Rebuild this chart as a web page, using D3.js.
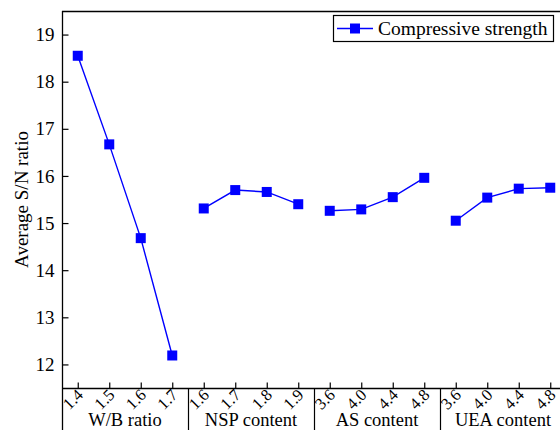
<!DOCTYPE html>
<html>
<head>
<meta charset="utf-8">
<script src="https://cdn.jsdelivr.net/npm/d3@7"></script>
<style>
  html, body { margin: 0; padding: 0; background: #fff; }
  svg { display: block; }
</style>
</head>
<body>
<svg id="chart" width="560" height="430"></svg>
<script>
// Factor groups and their levels (main-effects plot of average S/N ratio)
const groups = ["W/B ratio", "NSP content", "AS content", "UEA content"];
const levels = [
  ["1.4", "1.5", "1.6", "1.7"],
  ["1.6", "1.7", "1.8", "1.9"],
  ["3.6", "4.0", "4.4", "4.8"],
  ["3.6", "4.0", "4.4", "4.8"]
];
const snValues = [
  [18.55, 16.67, 14.68, 12.19],
  [15.31, 15.70, 15.66, 15.40],
  [15.26, 15.29, 15.55, 15.96],
  [15.05, 15.54, 15.73, 15.75]
];
const yTicks = [12, 13, 14, 15, 16, 17, 18, 19];
const seriesName = "Compressive strength";

const FONT = "Liberation Serif";
const svg = d3.select("#chart");
const W = 560, H = 430;
const plotLeft = 62, plotTop = 11, plotBottom = 388, plotRight = 566;
const blue = "#0000ff";

const perGroup = levels[0].length;
const nPts = groups.length * perGroup;

const x = d3.scaleLinear().domain([-0.5, nPts - 0.5]).range([plotLeft, plotRight]);
const y = d3.scaleLinear().domain([11.5, 19.5]).range([plotBottom, plotTop]);

// Flatten points with their index along the axis
const points = [];
snValues.forEach((vals, g) => vals.forEach((v, j) => {
  points.push({ g, j, i: g * perGroup + j, v, label: levels[g][j] });
}));

// Frame
svg.append("line").attr("x1", plotLeft).attr("x2", W).attr("y1", plotTop + 0.5).attr("y2", plotTop + 0.5)
  .attr("stroke", "#000").attr("stroke-width", 1.3);
svg.append("line").attr("x1", plotLeft + 0.5).attr("x2", plotLeft + 0.5).attr("y1", plotTop).attr("y2", H)
  .attr("stroke", "#000").attr("stroke-width", 1.3);

// Y axis with inward ticks
const yAxis = d3.axisLeft(y).tickValues(yTicks).tickSize(-6).tickPadding(8).tickFormat(d3.format("d"));
const yg = svg.append("g").attr("transform", `translate(${plotLeft + 0.5},0)`).call(yAxis)
  .attr("font-family", FONT).attr("font-size", 19);
yg.select(".domain").remove();
yg.selectAll(".tick line").attr("stroke", "#000").attr("stroke-width", 1.2);
yg.selectAll(".tick text").attr("fill", "#000");

// X axis with inward ticks
const xAxis = d3.axisBottom(x).tickValues(points.map(p => p.i)).tickSize(-6).tickFormat("");
const xg = svg.append("g").attr("transform", `translate(0,${plotBottom + 0.5})`).call(xAxis);
xg.select(".domain").attr("d", `M${plotLeft},0H${W}`).attr("stroke", "#000").attr("stroke-width", 1.3);
xg.selectAll(".tick line").attr("stroke", "#000").attr("stroke-width", 1.2);

// Rotated level labels, centred just below-left of each tick
svg.append("g").attr("font-family", FONT).attr("font-size", 16.5)
  .selectAll("text").data(points).join("text")
  .attr("transform", d => `translate(${x(d.i) - 5},${plotBottom + 11}) rotate(-45)`)
  .attr("text-anchor", "middle").attr("dy", "0.35em").attr("fill", "#000")
  .text(d => d.label);

// Group separators below the axis
d3.range(1, groups.length).forEach(g => {
  const sx = Math.round(x(g * perGroup - 0.5)) + 0.5;
  svg.append("line").attr("x1", sx).attr("x2", sx).attr("y1", plotBottom).attr("y2", H)
    .attr("stroke", "#000").attr("stroke-width", 1.2);
});

// Group names
svg.append("g").attr("font-family", FONT).attr("font-size", 18.5)
  .selectAll("text").data(groups).join("text")
  .attr("x", (d, g) => x(g * perGroup + (perGroup - 1) / 2))
  .attr("y", 426)
  .attr("text-anchor", "middle").attr("fill", "#000")
  .text(d => d);

// Y axis title
svg.append("text").attr("font-family", FONT).attr("font-size", 19)
  .attr("transform", `translate(28,${(plotTop + plotBottom) / 2}) rotate(-90)`)
  .attr("text-anchor", "middle").attr("fill", "#000")
  .text("Average S/N ratio");

// Lines, one per factor group
const line = d3.line().x(d => x(d.i)).y(d => y(d.v));
groups.forEach((_, g) => {
  svg.append("path").datum(points.filter(p => p.g === g))
    .attr("d", line).attr("fill", "none").attr("stroke", blue).attr("stroke-width", 1.4);
});

// Square markers
const ms = 10;
svg.append("g").selectAll("rect").data(points).join("rect")
  .attr("x", d => x(d.i) - ms / 2).attr("y", d => y(d.v) - ms / 2)
  .attr("width", ms).attr("height", ms).attr("fill", blue);

// Legend
const lg = svg.append("g");
lg.append("rect").attr("x", 333.5).attr("y", 15.5).attr("width", 220).attr("height", 26)
  .attr("fill", "#fff").attr("stroke", "#000").attr("stroke-width", 1.2);
lg.append("line").attr("x1", 337).attr("x2", 373).attr("y1", 28.5).attr("y2", 28.5)
  .attr("stroke", blue).attr("stroke-width", 1.4);
lg.append("rect").attr("x", 355 - ms / 2).attr("y", 28.5 - ms / 2).attr("width", ms).attr("height", ms)
  .attr("fill", blue);
lg.append("text").attr("font-family", FONT).attr("font-size", 19.5)
  .attr("x", 378).attr("y", 35).attr("fill", "#000")
  .text(seriesName);
</script>
</body>
</html>
